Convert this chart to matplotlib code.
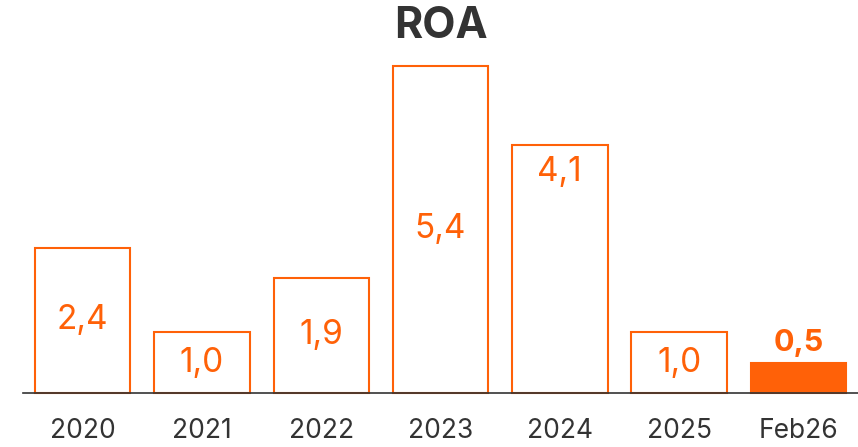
import matplotlib
matplotlib.use('Agg')
import matplotlib.pyplot as plt

plt.rcParams['font.family'] = ['Inter', 'DejaVu Sans']

categories = ['2020', '2021', '2022', '2023', '2024', '2025', 'Feb26']
roa = [2.4, 1.0, 1.9, 5.4, 4.1, 1.0, 0.5]
labels = ['2,4', '1,0', '1,9', '5,4', '4,1', '1,0', '0,5']
highlight = 'Feb26'

orange = '#FF6108'
dark = '#333333'

fig = plt.figure(figsize=(8.58, 4.47), dpi=100)
ax = fig.add_axes([23 / 858, 54 / 447, 835 / 858, 327 / 447])

# label sits mid-bar, except 2024 where it was placed near the top
label_frac = {'2024': 0.89}

for i, (cat, val, lab) in enumerate(zip(categories, roa, labels)):
    if cat == highlight:
        ax.bar(i, val, width=0.8, color=orange, edgecolor=orange, linewidth=1.5, clip_on=False)
        ax.text(i, val + 0.1, lab, ha='center', va='bottom', color=orange,
                fontsize=22, fontweight='bold')
    else:
        ax.bar(i, val, width=0.8, color='white', edgecolor=orange, linewidth=1.5, clip_on=False)
        ax.text(i, val * label_frac.get(cat, 0.5), lab, ha='center', va='center',
                color=orange, fontsize=24)

ax.set_xlim(-0.5, len(categories) - 0.5)
ax.set_ylim(0, 5.4)
ax.set_xticks(range(len(categories)))
ax.set_xticklabels(categories, fontsize=19, color=dark)
ax.tick_params(axis='x', length=0, pad=18)
ax.set_yticks([])
for side in ['top', 'right', 'left']:
    ax.spines[side].set_visible(False)
ax.spines['bottom'].set_color(dark)
ax.spines['bottom'].set_linewidth(1.2)
ax.spines['bottom'].set_zorder(5)

fig.text(440.5 / 858, 1 - 26 / 447, 'ROA', ha='center', va='center',
         fontsize=31, fontweight='bold', color=dark)

fig.savefig('out.png', dpi=100)
